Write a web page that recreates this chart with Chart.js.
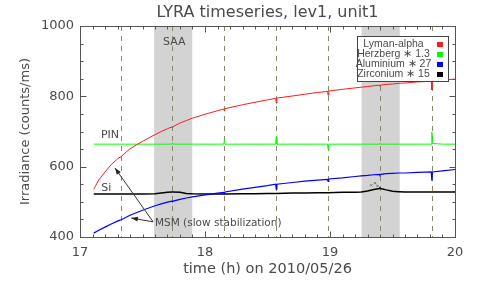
<!DOCTYPE html>
<html>
<head>
<meta charset="utf-8">
<script src="https://cdn.jsdelivr.net/npm/chart.js@4.4.1/dist/chart.umd.min.js"></script>
<style>
  html, body { margin: 0; padding: 0; background: #fff; }
</style>
</head>
<body>
<canvas id="lyra" width="479" height="288"></canvas>
<script>
// time grid (h, 2010/05/26) shared by the four channels
const hours = [17.11, 17.15, 17.20, 17.25, 17.30, 17.32, 17.325, 17.33, 17.40, 17.50,
  17.60, 17.65, 17.70, 17.735, 17.74, 17.745, 17.80, 17.85, 17.90, 18.00,
  18.10, 18.15, 18.155, 18.16, 18.30, 18.40, 18.50, 18.565, 18.57, 18.575,
  18.70, 18.80, 18.90, 18.98, 18.985, 18.99, 19.10, 19.20, 19.25, 19.30,
  19.35, 19.395, 19.40, 19.405, 19.45, 19.50, 19.55, 19.60, 19.70, 19.81,
  19.815, 19.82, 19.90, 20.00];

const lymanAlpha = [536, 562, 585, 606, 622, 627, 628, 629, 651, 672,
  691, 700, 708, 713, 710, 714, 724, 731, 738, 749,
  759, 764, 758, 765, 776, 783, 790, 794, 781, 795,
  801, 806, 811, 814, 803, 815, 820, 824, 826, 828,
  830, 832, 829, 832, 834, 835, 837, 838, 841, 843,
  818, 843, 846, 849];

const herzberg = [664, 664, 664, 664, 664, 664, 664, 664, 664, 664,
  664, 664, 664, 664, 668, 664, 664, 664, 664, 664,
  664, 664, 675, 664, 664, 664, 664, 664, 685, 664,
  664, 664, 664, 664, 648, 664, 664, 664, 664, 664,
  664, 664, 667, 664, 664, 664, 664, 664, 664, 664,
  698, 666, 664, 664];

const aluminium = [411, 419, 428, 437, 445, 448, 448, 449, 462, 476,
  489, 494, 499, 502, 500, 502, 507, 511, 514, 520,
  525, 527, 524, 528, 536, 541, 546, 550, 536, 550,
  555, 559, 562, 564, 558, 565, 568, 572, 574, 575,
  577, 578, 576, 578, 580, 581, 582, 582, 584, 585,
  560, 585, 588, 592];

const zirconium = [522, 522, 522, 522, 522, 522, 522, 522, 522, 522,
  523, 525, 527, 528, 528, 528, 527, 524, 523, 522,
  522, 522, 522, 522, 523, 523, 524, 524, 524, 524,
  525, 525, 526, 526, 526, 526, 527, 527, 528, 531,
  535, 538, 539, 538, 534, 530, 529, 528, 528, 528,
  528, 528, 528, 528];

// stray Zirconium samples inside the second SAA pass
const strayHours = [19.33, 19.36, 19.38];
const strayValues = [547, 553, 545];

const passTimes = [17.325, 17.74, 18.155, 18.57, 18.985, 19.40, 19.815];
const saaStart = [17.593, 19.253];
const saaEnd = [17.898, 19.558];

const legendLabels = ['Lyman-alpha', 'Herzberg \u2217 1.3', 'Aluminium \u2217 27', 'Zirconium \u2217 15'];
const colours = ['#ff1a1a', '#00ff00', '#0000ff', '#000000'];

const textCol = '#4a4a4a';
const font = 'DejaVu Sans';

const toXY = vals => hours.map((h, i) => ({x: h, y: vals[i]}));

function arrow(ctx, x0, y0, x1, y1) {
    const ang = Math.atan2(y1 - y0, x1 - x0);
    ctx.beginPath();
    ctx.moveTo(x0, y0);
    ctx.lineTo(x1, y1);
    ctx.stroke();
    ctx.beginPath();
    ctx.moveTo(x1, y1);
    ctx.lineTo(x1 - 7 * Math.cos(ang - 0.35), y1 - 7 * Math.sin(ang - 0.35));
    ctx.lineTo(x1 - 7 * Math.cos(ang + 0.35), y1 - 7 * Math.sin(ang + 0.35));
    ctx.closePath();
    ctx.fill();
}

const decor = {
    id: 'decor',
    beforeDatasetsDraw(chart) {
        const {ctx, chartArea: a, scales: {x}} = chart;
        ctx.save();
        ctx.fillStyle = 'rgb(211,211,211)';
        saaStart.forEach((s, i) => {
            const x0 = x.getPixelForValue(s);
            const x1 = x.getPixelForValue(saaEnd[i]);
            ctx.fillRect(x0, a.top, x1 - x0, a.bottom - a.top);
        });
        ctx.strokeStyle = 'rgb(135,135,105)';
        ctx.lineWidth = 1;
        ctx.setLineDash([5, 5]);
        passTimes.forEach(t => {
            const px = Math.round(x.getPixelForValue(t)) + 0.5;
            ctx.beginPath();
            ctx.moveTo(px, a.top);
            ctx.lineTo(px, a.bottom);
            ctx.stroke();
        });
        ctx.restore();
    },
    afterDatasetsDraw(chart) {
        const {ctx, chartArea: a, scales: {x, y}} = chart;
        ctx.save();

        // title
        ctx.fillStyle = textCol;
        ctx.font = `16px "${font}"`;
        ctx.textAlign = 'center';
        ctx.textBaseline = 'middle';
        ctx.fillText('LYRA timeseries, lev1, unit1', (a.left + a.right) / 2, 13);

        // box + inward ticks on all four sides
        ctx.strokeStyle = '#555';
        ctx.lineWidth = 1;
        ctx.setLineDash([]);
        const L = Math.round(a.left) + 0.5, R = Math.round(a.right) + 0.5;
        const T = Math.round(a.top) + 0.5, B = Math.round(a.bottom) + 0.5;
        ctx.strokeRect(L, T, R - L, B - T);
        ctx.beginPath();
        for (let i = 0; i <= 30; i++) {
            const px = Math.round(x.getPixelForValue(17 + i / 10)) + 0.5;
            const len = i % 10 === 0 ? 6 : 3;
            ctx.moveTo(px, B); ctx.lineTo(px, B - len);
            ctx.moveTo(px, T); ctx.lineTo(px, T + len);
        }
        for (let i = 0; i <= 12; i++) {
            const py = Math.round(y.getPixelForValue(400 + 50 * i)) + 0.5;
            const len = i % 4 === 0 ? 6 : 3;
            ctx.moveTo(L, py); ctx.lineTo(L + len, py);
            ctx.moveTo(R, py); ctx.lineTo(R - len, py);
        }
        ctx.stroke();

        // annotations
        ctx.fillStyle = textCol;
        ctx.font = `11px "${font}"`;
        ctx.textAlign = 'center';
        ctx.fillText('SAA', x.getPixelForValue(17.755), y.getPixelForValue(954));
        ctx.fillText('PIN', x.getPixelForValue(17.24), y.getPixelForValue(690));
        ctx.fillText('Si', x.getPixelForValue(17.21), y.getPixelForValue(539));
        ctx.textAlign = 'left';
        ctx.font = `10.5px "${font}"`;
        ctx.fillText('MSM (slow stabilization)', x.getPixelForValue(17.6), y.getPixelForValue(440));

        ctx.strokeStyle = '#333';
        ctx.fillStyle = '#222';
        const tx = x.getPixelForValue(17.585), ty = y.getPixelForValue(443);
        arrow(ctx, tx, ty, x.getPixelForValue(17.28), y.getPixelForValue(596));
        arrow(ctx, tx, ty, x.getPixelForValue(17.41), y.getPixelForValue(454));

        // legend box
        const bw = 91, bh = 45;
        const bx = Math.round(a.right) - 98 + 0.5, by = Math.round(a.top) + 10 + 0.5;
        ctx.fillStyle = '#fff';
        ctx.fillRect(bx, by, bw, bh);
        ctx.strokeStyle = '#444';
        ctx.strokeRect(bx, by, bw, bh);
        ctx.font = `10.5px "Liberation Sans"`;
        ctx.textAlign = 'center';
        legendLabels.forEach((lab, i) => {
            const cy = by + 8 + i * 10;
            ctx.fillStyle = textCol;
            ctx.fillText(lab, bx + 36, cy);
            ctx.fillStyle = colours[i];
            ctx.fillRect(Math.round(bx + 79), Math.round(cy - 3), 6, 5);
        });

        ctx.restore();
    }
};

const lineSet = (label, vals, colour, width) => ({
    label: label,
    data: toXY(vals),
    borderColor: colour,
    backgroundColor: colour,
    borderWidth: width,
    pointRadius: 0,
    tension: 0
});

const config = {
    type: 'line',
    data: {
        datasets: [
            lineSet(legendLabels[0], lymanAlpha, colours[0], 1),
            lineSet(legendLabels[1], herzberg, colours[1], 1),
            lineSet(legendLabels[2], aluminium, colours[2], 1.2),
            lineSet(legendLabels[3], zirconium, colours[3], 1.5),
            {
                label: 'stray',
                data: strayHours.map((h, i) => ({x: h, y: strayValues[i]})),
                showLine: false,
                pointStyle: 'crossRot',
                pointRadius: 1.5,
                borderColor: '#777',
                borderWidth: 1
            }
        ]
    },
    options: {
        responsive: false,
        animation: false,
        layout: {padding: {left: 0, right: 24, top: 26, bottom: 0}},
        plugins: {
            legend: {display: false},
            tooltip: {enabled: false},
            title: {display: false}
        },
        scales: {
            x: {
                type: 'linear',
                min: 17,
                max: 20,
                afterFit: s => { s.height = 51; },
                grid: {display: false, drawTicks: false},
                border: {display: false},
                ticks: {
                    stepSize: 1,
                    padding: 8,
                    color: textCol,
                    font: {family: font, size: 13}
                },
                title: {
                    display: true,
                    text: 'time (h) on 2010/05/26',
                    color: textCol,
                    font: {family: font, size: 14.5},
                    padding: {top: 0, bottom: 10}
                }
            },
            y: {
                min: 400,
                max: 1000,
                afterFit: s => { s.width = 80; },
                grid: {display: false, drawTicks: false},
                border: {display: false},
                ticks: {
                    stepSize: 200,
                    padding: 6,
                    color: textCol,
                    font: {family: font, size: 13},
                    callback: v => String(v)
                },
                title: {
                    display: true,
                    text: 'Irradiance (counts/ms)',
                    color: textCol,
                    font: {family: font, size: 13},
                    padding: {top: 18, bottom: 0}
                }
            }
        }
    },
    plugins: [decor]
};

new Chart(document.getElementById('lyra'), config);
</script>
</body>
</html>
